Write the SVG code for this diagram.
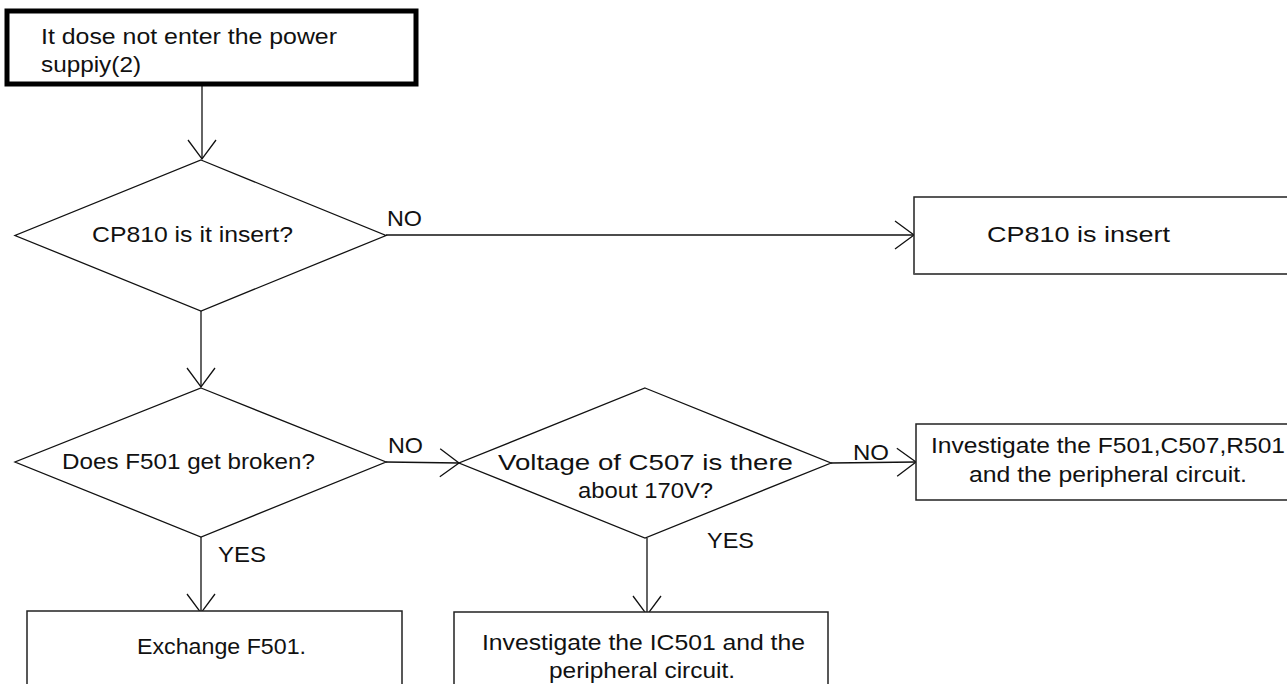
<svg xmlns="http://www.w3.org/2000/svg" width="1287" height="684" viewBox="0 0 1287 684">
<defs>
<style>
text{font-family:"Liberation Sans",Arial,sans-serif;font-size:22px;fill:#111;}
.box{fill:#fff;stroke:#222;stroke-width:1.5;}
.dia{fill:#fff;stroke:#111;stroke-width:1.3;}
.con{fill:none;stroke:#111;stroke-width:1.3;}
</style>
<marker id="arr" markerUnits="userSpaceOnUse" markerWidth="40" markerHeight="40" refX="20" refY="20" orient="auto" viewBox="0 0 40 40">
<path d="M1,6 L20,20 L1,34" fill="none" stroke="#111" stroke-width="1.3"/>
</marker>
</defs>
<rect width="1287" height="684" fill="#fff"/>

<g id="connectors">
<line class="con" x1="202" y1="86" x2="202" y2="159" marker-end="url(#arr)"/>
<line class="con" x1="201" y1="311" x2="201" y2="387" marker-end="url(#arr)"/>
<line class="con" x1="386" y1="235" x2="914" y2="235" marker-end="url(#arr)"/>
<line class="con" x1="386" y1="462" x2="459" y2="463" marker-end="url(#arr)"/>
<line class="con" x1="831" y1="463" x2="916" y2="462" marker-end="url(#arr)"/>
<line class="con" x1="201" y1="537" x2="201" y2="613" marker-end="url(#arr)"/>
<line class="con" x1="647" y1="538" x2="647" y2="615" marker-end="url(#arr)"/>
<text x="387" y="226" textLength="35" lengthAdjust="spacingAndGlyphs">NO</text>
<text x="388" y="453" textLength="35" lengthAdjust="spacingAndGlyphs">NO</text>
<text x="218" y="562" textLength="48" lengthAdjust="spacingAndGlyphs">YES</text>
<text x="707" y="548" textLength="47" lengthAdjust="spacingAndGlyphs">YES</text>
<text x="853" y="460" textLength="36" lengthAdjust="spacingAndGlyphs">NO</text>
</g>

<g id="start">
<rect x="7" y="11" width="409" height="73" fill="#fff" stroke="#000" stroke-width="5"/>
<text x="41" y="44" textLength="296" lengthAdjust="spacingAndGlyphs">It dose not enter the power</text>
<text x="41" y="72" textLength="100" lengthAdjust="spacingAndGlyphs">suppiy(2)</text>
</g>

<g id="d1">
<polygon class="dia" points="201,160 386,235.5 201,311 15,235.5"/>
<text x="92" y="242" textLength="201" lengthAdjust="spacingAndGlyphs">CP810 is it insert?</text>
</g>

<g id="b1">
<path d="M1295,197 H914 V274 H1295" fill="#fff" stroke="#222" stroke-width="1.5"/>
<line x1="914" y1="274" x2="1295" y2="274" stroke="#555" stroke-width="2.2"/>
<text x="987" y="242" textLength="183" lengthAdjust="spacingAndGlyphs">CP810 is insert</text>
</g>

<g id="d2">
<polygon class="dia" points="201,388 386,462 201,537 15,462"/>
<text x="62" y="469" textLength="253" lengthAdjust="spacingAndGlyphs">Does F501 get broken?</text>
</g>

<g id="d3">
<polygon class="dia" points="645,388 831,463 645,538 459,463"/>
<text x="498" y="470" textLength="295" lengthAdjust="spacingAndGlyphs">Voltage of C507 is there</text>
<text x="578" y="498" textLength="135" lengthAdjust="spacingAndGlyphs">about 170V?</text>
</g>

<g id="b2">
<path class="box" d="M1295,424 H916 V500 H1295"/>
<text x="931" y="453" textLength="354" lengthAdjust="spacingAndGlyphs">Investigate the F501,C507,R501</text>
<text x="969" y="482" textLength="278" lengthAdjust="spacingAndGlyphs">and the peripheral circuit.</text>
</g>

<g id="b3">
<path class="box" d="M27,700 V611 H402 V700"/>
<text x="137" y="654" textLength="169" lengthAdjust="spacingAndGlyphs">Exchange F501.</text>
</g>

<g id="b4">
<path class="box" d="M454,700 V612 H828 V700"/>
<text x="482" y="650" textLength="323" lengthAdjust="spacingAndGlyphs">Investigate the IC501 and the</text>
<text x="549" y="678" textLength="186" lengthAdjust="spacingAndGlyphs">peripheral circuit.</text>
</g>
</svg>
